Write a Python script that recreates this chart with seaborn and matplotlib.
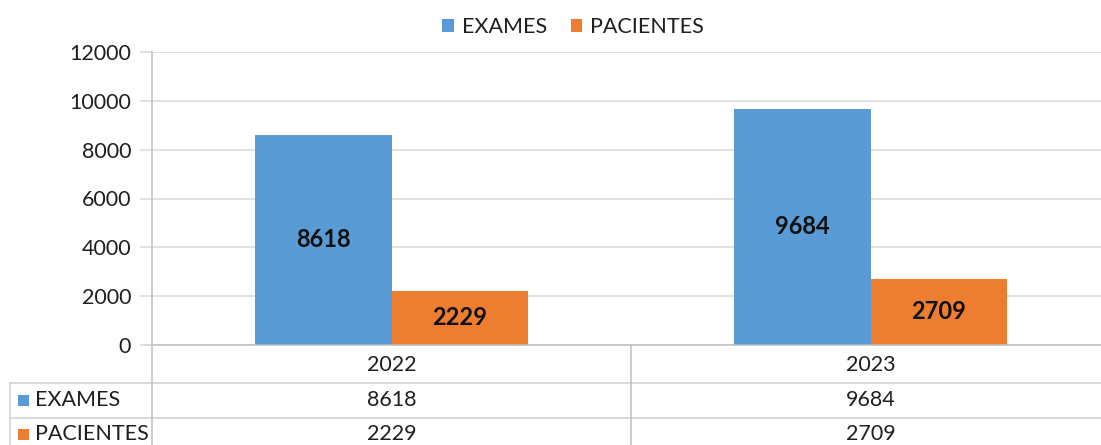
import matplotlib
matplotlib.use("Agg")
import matplotlib.pyplot as plt
import matplotlib.transforms as mtransforms
from matplotlib.lines import Line2D
from matplotlib.patches import Patch
import seaborn as sns
import pandas as pd

years = ["2022", "2023"]
exames = [8618, 9684]
pacientes = [2229, 2709]
series_names = ["EXAMES", "PACIENTES"]
colors = ["#5B9BD5", "#ED7D31"]
yticks = [0, 2000, 4000, 6000, 8000, 10000, 12000]

sns.set_theme(style="white")
plt.rcParams["font.family"] = ["Lato", "DejaVu Sans"]

df = pd.DataFrame({
    "year": years * 2,
    "value": exames + pacientes,
    "serie": [series_names[0]] * len(years) + [series_names[1]] * len(years),
})

W, H = 1101, 445
FS = 15.5
TC = "#1f1f1f"
fig = plt.figure(figsize=(W / 100, H / 100), dpi=100)
ax = fig.add_axes([152 / W, (H - 345) / H, (W - 152) / W, (345 - 52) / H])

sns.barplot(data=df, x="year", y="value", hue="serie", palette=colors,
            width=0.57, saturation=1, ax=ax, legend=False, linewidth=0,
            edgecolor="none")

ax.set_xlim(-0.5, (W - 152) / 479 - 0.5)
ax.set_ylim(0, 12000)
ax.set_yticks(yticks)
ax.set_yticklabels([str(t) for t in yticks], fontsize=FS, color=TC)
ax.set_xticks([])
ax.set_xlabel("")
ax.set_ylabel("")
for t in yticks:
    ax.axhline(t, color="#d9d9d9", lw=1.1, zorder=0)
for s in ["top", "right", "bottom"]:
    ax.spines[s].set_visible(False)
ax.spines["left"].set_color("#bfbfbf")
ax.spines["left"].set_linewidth(1.1)
ax.tick_params(axis="y", length=9, width=1.1, color="#d9d9d9", pad=6, left=True)

# bar labels
for cont in ax.containers:
    for bar in cont:
        h = bar.get_height()
        ax.text(bar.get_x() + bar.get_width() / 2, h / 2, f"{int(h)}",
                ha="center", va="center", fontsize=17, fontweight="bold",
                color="#111111")

# legend at top
handles = [Patch(facecolor=c, edgecolor="none") for c in colors]
fig.legend(handles, series_names, loc="center", bbox_to_anchor=(573 / W, 1 - 27 / H),
           ncol=2, frameon=False, fontsize=FS, handlelength=0.55, handleheight=0.55,
           handletextpad=0.35, columnspacing=1.1, labelcolor=TC)

# data table
lc = "#d0d0d0"
def fy(p):
    return 1 - p / H
def fx(p):
    return p / W
for y in [383, 418]:
    fig.add_artist(Line2D([fx(10), 1], [fy(y), fy(y)], color=lc, lw=1.1))
fig.add_artist(Line2D([fx(152), 1], [fy(345), fy(345)], color="#bfbfbf", lw=1.1))
fig.add_artist(Line2D([fx(144), fx(152)], [fy(345), fy(345)], color="#d9d9d9", lw=1.1))
fig.add_artist(Line2D([fx(152), fx(152)], [fy(345), 0], color="#bfbfbf", lw=1.1))
fig.add_artist(Line2D([fx(10), fx(10)], [fy(383), 0], color=lc, lw=1.1))
trans = mtransforms.blended_transform_factory(ax.transData, fig.transFigure)
fig.add_artist(Line2D([0.5, 0.5], [fy(345), 0], color="#bfbfbf", lw=1.1, transform=trans))

for i, yr in enumerate(years):
    fig.text(i, fy(365), yr, transform=trans, ha="center", va="center", fontsize=FS, color=TC)
    fig.text(i, fy(400), str(exames[i]), transform=trans, ha="center", va="center", fontsize=FS, color=TC)
    fig.text(i, fy(434), str(pacientes[i]), transform=trans, ha="center", va="center", fontsize=FS, color=TC)

for j, (name, c, yy) in enumerate(zip(series_names, colors, [400, 434])):
    fig.patches.append(plt.Rectangle((fx(18), fy(yy + 5.5)), 11 / W, 11 / H, transform=fig.transFigure,
                                     facecolor=c, edgecolor="none", figure=fig))
    fig.text(fx(35), fy(yy), name, ha="left", va="center", fontsize=FS, color=TC)

fig.savefig("out.png", dpi=100, facecolor="white")
